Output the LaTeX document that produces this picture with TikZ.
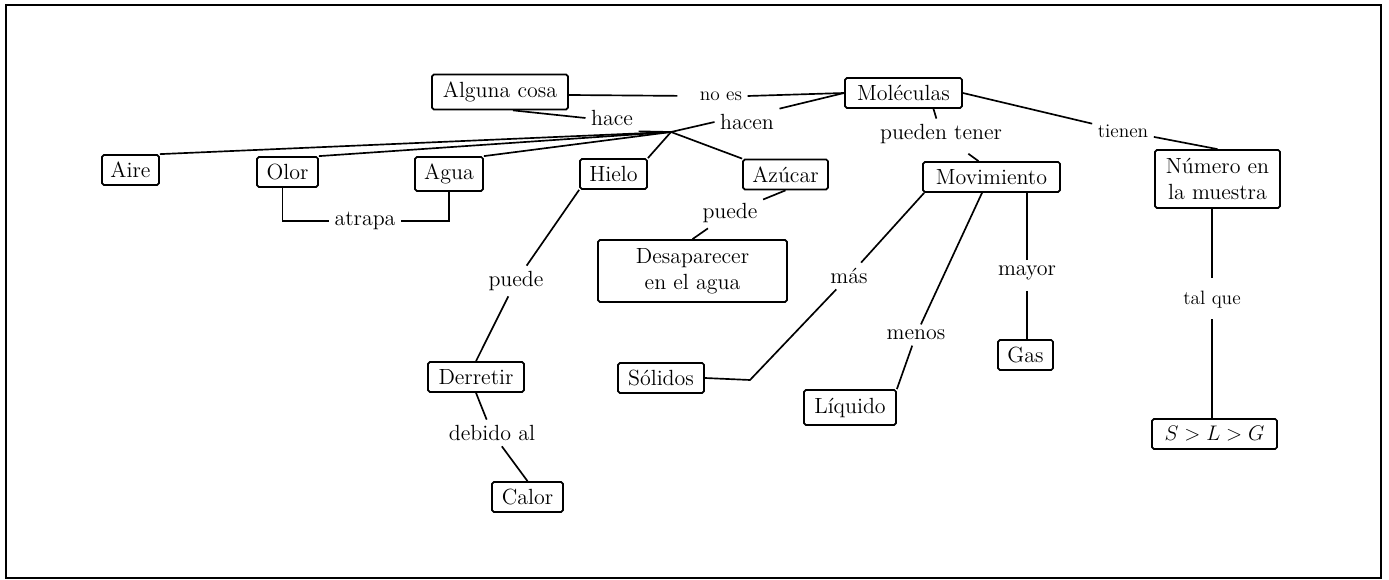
\documentclass[tikz,border=0pt]{standalone}
\usetikzlibrary{calc}
\begin{document}
\begin{tikzpicture}[x=0.02cm,y=-0.02cm,
  box/.style={draw, line width=1pt, rounded corners=1pt, inner sep=0pt, align=center, font=\fontsize{12.5}{15}\selectfont},
  lbl/.style={inner sep=3pt, font=\fontsize{12.5}{15}\selectfont},
  sml/.style={inner sep=3pt, font=\fontsize{11}{13}\selectfont},
  con/.style={line width=0.95pt}]
\useasboundingbox (0,0) rectangle (1389,580);
\draw[line width=1.2pt] (6,5) rectangle (1381,578);

% boxes
\node[box, minimum width=2.72cm, minimum height=0.7cm] (alg) at (500,92) {Alguna cosa};
\node[box, minimum width=2.34cm, minimum height=0.6cm] (mol) at (903.5,93) {Moléculas};
\node[box, minimum width=1.14cm, minimum height=0.6cm] (aire) at (130.5,170) {Aire};
\node[box, minimum width=1.22cm, minimum height=0.6cm] (olor) at (287.5,172) {Olor};
\node[box, minimum width=1.36cm, minimum height=0.68cm] (agua) at (449,174) {Agua};
\node[box, minimum width=1.34cm, minimum height=0.6cm] (hielo) at (613.5,174) {Hielo};
\node[box, minimum width=1.7cm, minimum height=0.6cm] (azu) at (785.5,174.5) {Azúcar};
\node[box, minimum width=2.74cm, minimum height=0.6cm] (mov) at (991.5,177) {Movimiento};
\node[box, minimum width=2.5cm, minimum height=1.16cm] (num) at (1217.5,179) {Número en\\la muestra};
\node[box, minimum width=3.78cm, minimum height=1.24cm] (des) at (692.5,271) {Desaparecer\\en el agua};
\node[box, minimum width=1.92cm, minimum height=0.6cm] (der) at (476,377) {Derretir};
\node[box, minimum width=1.72cm, minimum height=0.6cm] (sol) at (661,378) {Sólidos};
\node[box, minimum width=1.42cm, minimum height=0.6cm] (calor) at (527.5,497) {Calor};
\node[box, minimum width=1.84cm, minimum height=0.7cm] (liq) at (850,407.5) {Líquido};
\node[box, minimum width=1.1cm, minimum height=0.6cm] (gas) at (1025.5,355) {Gas};
\node[box, minimum width=2.5cm, minimum height=0.6cm] (slg) at (1214.5,434) {\(S > L > G\)};

% labels
\node[sml] (noes) at (721,96) {no es};
\node[lbl] (hace) at (612,118) {hace};
\node[lbl] (hacen) at (747,122) {hacen};
\coordinate (J) at (671,132);
\node[lbl] (atrapa) at (365,221) {atrapa};
\node[lbl] (puedeA) at (730,213) {puede};
\node[lbl] (puedeH) at (516,281) {puede};
\node[lbl] (debido) at (492,433) {debido al};
\node[lbl] (pueden) at (941,134) {pueden tener};
\node[sml] (tienen) at (1123,131) {tienen};
\node[lbl] (mas) at (849,276) {más};
\node[lbl] (menos) at (916,335) {menos};
\node[lbl] (mayor) at (1027,273) {mayor};
\node[sml] (talque) at (1212,300) {tal que};
\coordinate (solc) at (750,380);

% connectors
\draw[con, shorten >=0.34cm] ([yshift=-0.06cm]alg.east) -- (noes.west);
\draw[con] (noes.east) -- (mol.west);
\draw[con] (mol.west) -- (hacen.north east);
\draw[con] (hacen.west) -- (J);
\draw[con] ([xshift=0.26cm]alg.south) -- (hace.west);
\draw[con] (hace.south east) -- (J) -- (azu.north west);
\draw[con] (J) -- (hielo.north east);
\draw[con] (J) -- (agua.north east);
\draw[con] (J) -- (olor.north east);
\draw[con] (J) -- (aire.north east);
\draw[con] ([xshift=-0.1cm]olor.south) |- (atrapa.west);
\draw[con] (atrapa.east) -| (agua.south);
\draw[con] (azu.south) -- (puedeA);
\draw[con] (puedeA) -- (des.north);
\draw[con] (hielo.south west) -- (puedeH);
\draw[con] (puedeH) -- (der.north);
\draw[con] (der.south) -- (debido);
\draw[con] (debido) -- (calor.north);
\draw[con] ([xshift=0.6cm]mol.south) -- (pueden);
\draw[con, shorten <=0.15cm] (pueden) -- ([xshift=-0.26cm]mov.north);
\draw[con] (mol.east) -- (tienen);
\draw[con] (tienen) -- (num.north);
\draw[con] ([xshift=0.04cm]mov.south west) -- (mas);
\draw[con] (mas) -- (solc) -- (sol.east);
\draw[con] ([xshift=-0.19cm]mov.south) -- (menos);
\draw[con] (menos) -- (liq.north east);
\draw[con] (mayor) -- (mayor |- mov.south);
\draw[con, shorten <=0.1cm] (mayor) -- (mayor |- gas.north);
\draw[con, shorten <=0.16cm] (talque) -- (talque |- num.south);
\draw[con, shorten <=0.1cm] (talque) -- (talque |- slg.north);
\end{tikzpicture}
\end{document}
